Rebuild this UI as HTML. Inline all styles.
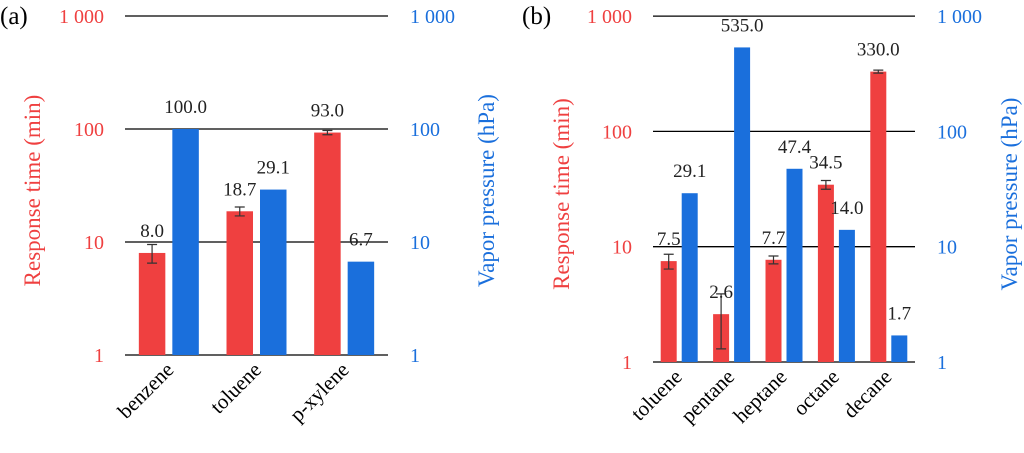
<!DOCTYPE html>
<html><head><meta charset="utf-8"><style>
body{margin:0;background:#fff}
svg, svg text{font-family:"Liberation Serif","DejaVu Serif","Times New Roman",serif}
</style></head><body>
<svg id="c" width="1024" height="448" viewBox="0 0 1024 448" xmlns="http://www.w3.org/2000/svg" font-family="Liberation Serif, DejaVu Serif, serif"></svg>
<script>
const catsA=["benzene","toluene","p-xylene"];
const respA=[8.0,18.7,93.0];
const errA=[1.5,1.7,4];
const vapA=[100.0,29.1,6.7];
const catsB=["toluene","pentane","heptane","octane","decane"];
const respB=[7.5,2.6,7.7,34.5,330.0];
const errB=[1.1,1.3,0.6,3,10];
const vapB=[29.1,535.0,47.4,14.0,1.7];
const ticks=[1,10,100,1000];
const tickLabels=["1","10","100","1 000"];
const RED="#ef4040",BLUE="#1a6fdc";
const FF="Liberation Serif, DejaVu Serif, serif";
const svg=document.getElementById('c');
const NS="http://www.w3.org/2000/svg";
function mk(tag,attrs,parent){const e=document.createElementNS(NS,tag);for(const k in attrs)e.setAttribute(k,attrs[k]);if(tag==='text')e.setAttribute('font-family',FF);(parent||svg).appendChild(e);return e;}
function panel(cfg){
 const g=mk('g',{});
 
 
 const y=v=>cfg.y1-Math.log10(v)*cfg.dec;
 const cw=(cfg.x1-cfg.x0)/cfg.cats.length;
 ticks.forEach((t,i)=>{
  const ln=mk('line',{x1:cfg.x0,x2:cfg.x1,y1:y(t),y2:y(t),stroke:'#000','stroke-width':1.3},g);
  
  
  const tl=mk('text',{x:cfg.lx,y:y(t)+7,'text-anchor':'end',fill:RED,'font-size':20},g);
  tl.textContent=tickLabels[i];
  
  
  const tr=mk('text',{x:cfg.rx,y:y(t)+7,'text-anchor':'start',fill:BLUE,'font-size':20},g);
  tr.textContent=tickLabels[i];
  
  
 });
 cfg.cats.forEach((c,i)=>{
  const cx=cfg.x0+cw*(i+0.5);
  const rx=cx-cfg.off-cfg.bw, bx=cx+cfg.off;
  const rb=mk('rect',{x:rx,y:y(cfg.resp[i]),width:cfg.bw,height:cfg.y1-y(cfg.resp[i]),fill:RED},g);
  
  
  const bb=mk('rect',{x:bx,y:y(cfg.vap[i]),width:cfg.bw,height:cfg.y1-y(cfg.vap[i]),fill:BLUE},g);
  
  
  const ex=rx+cfg.bw/2, yt=y(cfg.resp[i]+cfg.err[i]), yb=y(Math.max(cfg.resp[i]-cfg.err[i],0.01));
  const eb=mk('path',{d:`M${ex-5},${yt}H${ex+5}M${ex},${yt}V${yb}M${ex-5},${yb}H${ex+5}`,stroke:'#333','stroke-width':1.2,fill:'none'},g);
  
  
  const t1=mk('text',{x:ex,y:y(cfg.resp[i])-16,'text-anchor':'middle','font-size':19,fill:'#222'},g);
  t1.textContent=cfg.resp[i].toFixed(1);
  
  
  const t2=mk('text',{x:bx+cfg.bw/2,y:y(cfg.vap[i])-16,'text-anchor':'middle','font-size':19,fill:'#222'},g);
  t2.textContent=cfg.vap[i].toFixed(1);
  
  
  const ax=cx+cfg.labOff, ay=cfg.y1+cfg.labDy;
  const cl=mk('text',{x:ax,y:ay,'text-anchor':'end','font-size':21,fill:'#000',transform:`rotate(-45 ${ax} ${ay})`},g);
  cl.textContent=c;
  
  
 });
 const my=(cfg.y1+y(1000))/2+5;
 const lt=mk('text',{x:cfg.ltx,y:my,'text-anchor':'middle','font-size':23,fill:RED,transform:`rotate(-90 ${cfg.ltx} ${my})`},g);
 lt.textContent="Response time (min)";
 
 
 const rt=mk('text',{x:cfg.rtx,y:my,'text-anchor':'middle','font-size':23,fill:BLUE,transform:`rotate(-90 ${cfg.rtx} ${my})`},g);
 rt.textContent="Vapor pressure (hPa)";
 
 
 const pl=mk('text',{x:cfg.px,y:24,'font-size':25,fill:'#000'},g);
 pl.textContent="("+cfg.id+")";
 
 
}
panel({id:'a',cats:catsA,resp:respA,err:errA,vap:vapA,x0:125,x1:388,y1:355,dec:113,bw:26.5,off:3.5,lx:104,rx:410,ltx:40,rtx:494,px:0,labOff:6,labDy:16});
panel({id:'b',cats:catsB,resp:respB,err:errB,vap:vapB,x0:653,x1:915,y1:362,dec:115.3,bw:16,off:2.5,lx:632,rx:937,ltx:569,rtx:1017,px:522,labOff:4,labDy:16});
</script>
</body></html>
